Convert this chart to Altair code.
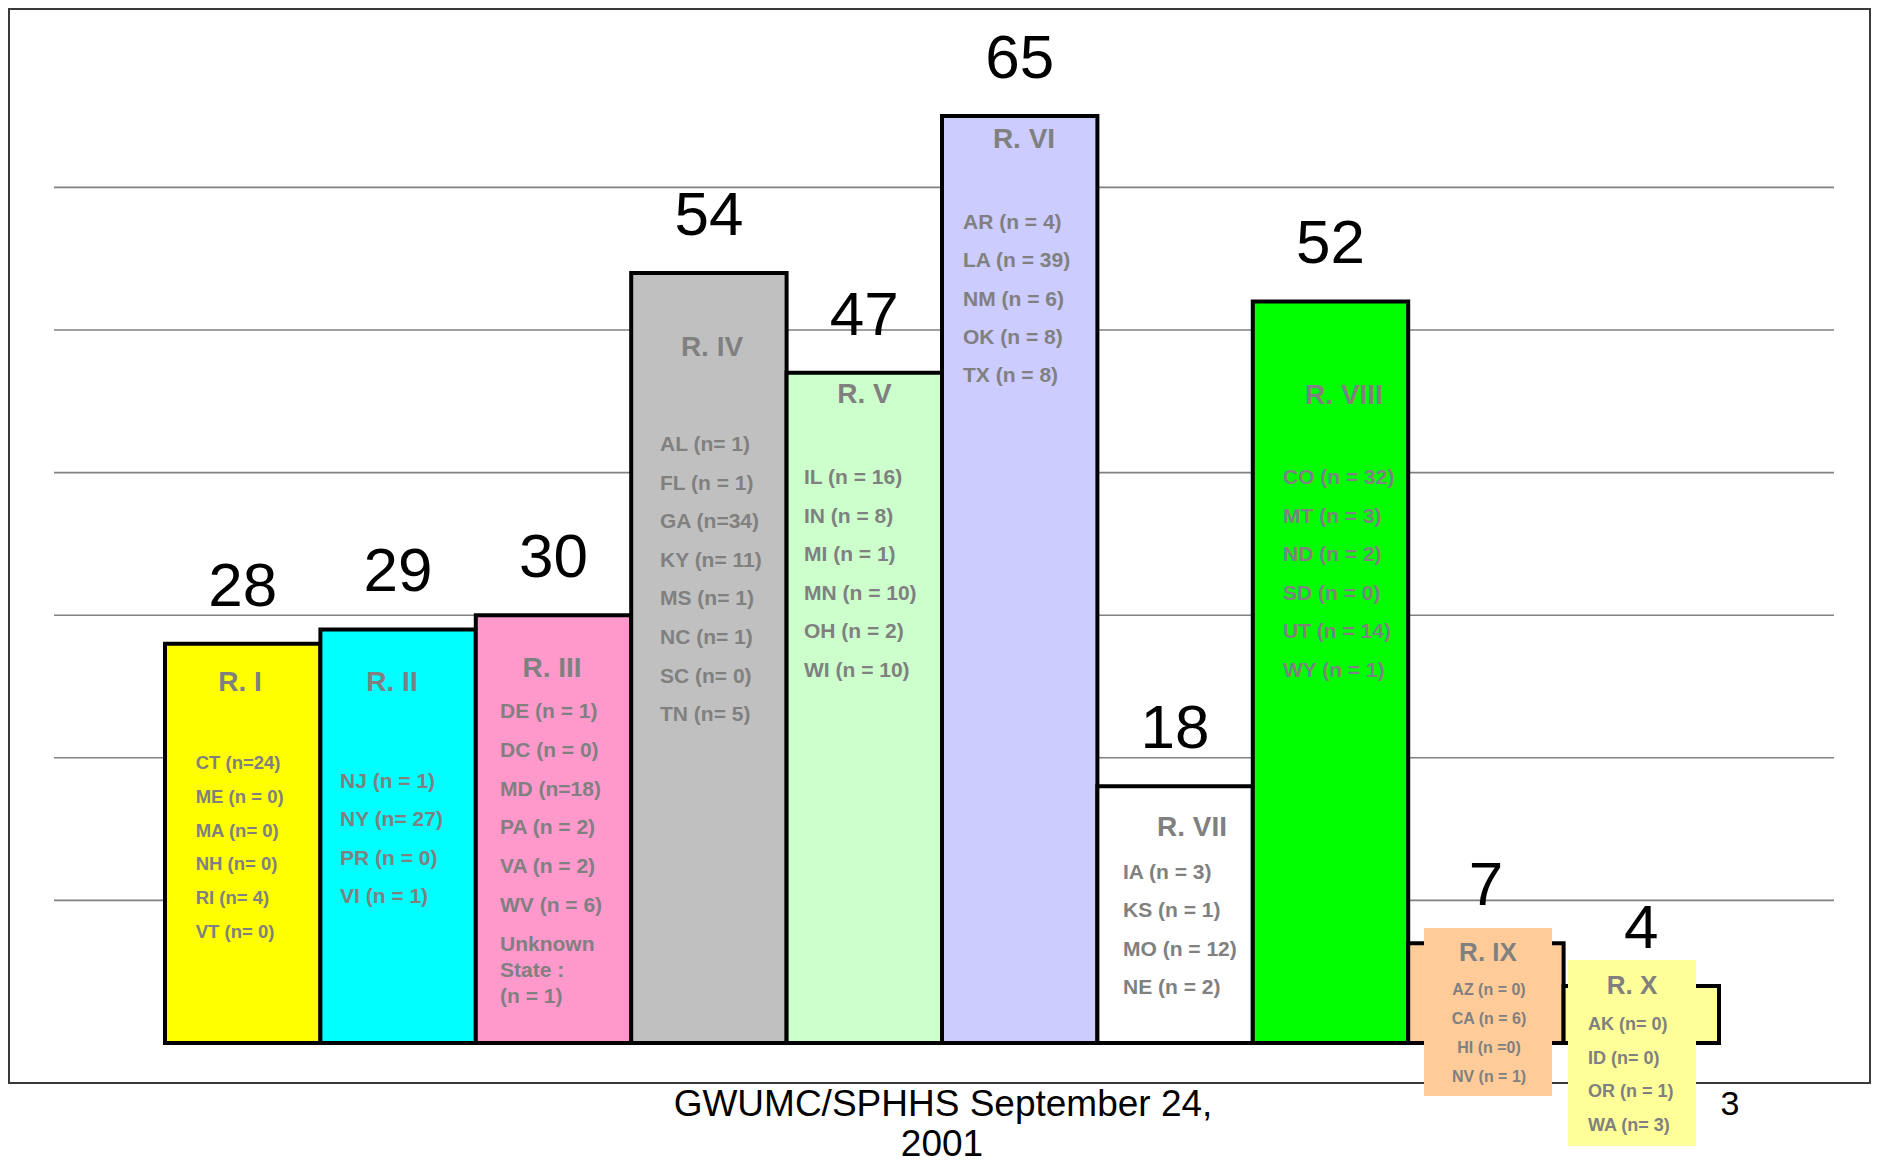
import altair as alt
import pandas as pd

# ---------------- data ----------------
REGIONS = ["R. I", "R. II", "R. III", "R. IV", "R. V",
           "R. VI", "R. VII", "R. VIII", "R. IX", "R. X"]
TOTALS = [28, 29, 30, 54, 47, 65, 18, 52, 7, 4]
STATES = [
    ["CT (n=24)", "ME (n = 0)", "MA (n= 0)", "NH (n= 0)", "RI (n= 4)", "VT (n= 0)"],
    ["NJ (n = 1)", "NY (n= 27)", "PR (n = 0)", "VI (n = 1)"],
    ["DE (n = 1)", "DC (n = 0)", "MD (n=18)", "PA (n = 2)", "VA (n = 2)",
     "WV (n = 6)", "Unknown", "State :", "(n = 1)"],
    ["AL (n= 1)", "FL (n = 1)", "GA (n=34)", "KY (n= 11)", "MS (n= 1)",
     "NC (n= 1)", "SC (n= 0)", "TN (n= 5)"],
    ["IL (n = 16)", "IN (n = 8)", "MI (n = 1)", "MN (n = 10)", "OH (n = 2)", "WI (n = 10)"],
    ["AR (n = 4)", "LA (n = 39)", "NM (n = 6)", "OK (n = 8)", "TX (n = 8)"],
    ["IA (n = 3)", "KS (n = 1)", "MO (n = 12)", "NE (n = 2)"],
    ["CO (n = 32)", "MT (n = 3)", "ND (n = 2)", "SD (n = 0)", "UT (n = 14)", "WY (n = 1)"],
    ["AZ (n = 0)", "CA (n = 6)", "HI (n =0)", "NV (n = 1)"],
    ["AK (n= 0)", "ID (n= 0)", "OR (n = 1)", "WA (n= 3)"],
]
GRID_VALUES = [10, 20, 30, 40, 50, 60]
FOOTER_LINES = ["GWUMC/SPHHS September 24,", "2001"]
PAGE_NUMBER = "3"

# ---------------- style ----------------
FILLS = ["#FFFF00", "#00FFFF", "#FF99CC", "#C0C0C0", "#CCFFCC",
         "#CCCCFF", "#FFFFFF", "#00FF00", "#FFCC99", "#FFFF99"]
FONT = "Liberation Sans, Arial, sans-serif"
GRAY_TEXT = "#808080"

# ---------------- geometry (page pixels) ----------------
W, H = 1863, 1157
ORIGIN = 8
X0_PAGE, X_STEP = 165.0, 155.4     # left edge of first bar, bar width
Y0_PAGE, Y_STEP = 1043.0, 14.26    # baseline, pixels per unit


def xu(px):
    return (px - X0_PAGE) / X_STEP


def yu(py):
    return (Y0_PAGE - py) / Y_STEP


X_DOMAIN = [xu(ORIGIN), xu(ORIGIN + W)]
Y_DOMAIN = [yu(ORIGIN + H), yu(ORIGIN)]
XS = alt.Scale(domain=X_DOMAIN, nice=False, zero=False)
YS = alt.Scale(domain=Y_DOMAIN, nice=False, zero=False)

# title (center x, middle y, font size) per region
TITLE_POS = [(240, 683, 28), (392, 683, 28), (552, 669, 28), (712, 347.5, 28),
             (864.5, 395, 28), (1024, 140, 28), (1192, 828, 28), (1344, 396, 28),
             (1488, 953, 26), (1632, 986, 26)]
# list (anchor x, first line middle y, line spacing, font size)
LIST_POS = [(195.7, 763, 33.8, 18.5), (340, 782, 38.3, 21), (500, 712, 38.8, 21),
            (660, 445, 38.6, 21), (804, 478, 38.6, 21), (963, 223, 38.3, 21),
            (1123, 873, 38.4, 21), (1283, 478, 38.6, 21), (1489, 990, 29, 16),
            (1588, 1025, 33.7, 18)]
CENTERED_LISTS = {8}
SLOT_OVERRIDE = {2: [0, 1, 2, 3, 4, 5, 6, 6.67, 7.34]}
GRID_X = (54, 1834)
FRAME = (9, 9, 1870, 1083)
BOXES = [(1424, 928, 1552, 1096, "#FFCC99"), (1568, 960, 1696, 1146, "#FFFF99")]
FOOTER_POS = [(943, 1105), (942, 1145)]
FOOTER_SIZE = 37
PAGE_NUM_POS = (1730, 1105)

# ---------------- tables ----------------
bars_df = pd.DataFrame({
    "region": REGIONS,
    "x0": list(range(len(REGIONS))),
    "x1": [i + 1 for i in range(len(REGIONS))],
    "xc": [i + 0.5 for i in range(len(REGIONS))],
    "base": [0] * len(REGIONS),
    "value": TOTALS,
    "fill": FILLS,
})

grid_df = pd.DataFrame({"v": GRID_VALUES, "gx0": xu(GRID_X[0]), "gx1": xu(GRID_X[1])})

frame_df = pd.DataFrame([{"fx0": xu(FRAME[0]), "fy0": yu(FRAME[1]),
                          "fx1": xu(FRAME[2]), "fy1": yu(FRAME[3])}])

box_df = pd.DataFrame([{"bx0": xu(a), "by0": yu(b), "bx1": xu(c), "by1": yu(d), "fill": f}
                       for a, b, c, d, f in BOXES])

title_df = pd.DataFrame([{"t": REGIONS[i], "tx": xu(p[0]), "ty": yu(p[1]), "size": p[2]}
                         for i, p in enumerate(TITLE_POS)])

rows = []
for i, lines in enumerate(STATES):
    ax, y0, step, size = LIST_POS[i]
    slots = SLOT_OVERRIDE.get(i, list(range(len(lines))))
    for k, line in enumerate(lines):
        rows.append({"t": line, "lx": xu(ax), "ly": yu(y0 + slots[k] * step),
                     "size": size, "centered": i in CENTERED_LISTS})
list_df = pd.DataFrame(rows)

footer_df = pd.DataFrame([{"t": t, "fx": xu(p[0]), "fy": yu(p[1])}
                          for t, p in zip(FOOTER_LINES, FOOTER_POS)])
page_df = pd.DataFrame([{"t": PAGE_NUMBER, "px": xu(PAGE_NUM_POS[0]), "py": yu(PAGE_NUM_POS[1])}])

# ---------------- layers ----------------
frame = alt.Chart(frame_df).mark_rect(fillOpacity=0, stroke="#3a3a3a", strokeWidth=2).encode(
    x=alt.X("fx0:Q", scale=XS, axis=None), x2="fx1:Q",
    y=alt.Y("fy0:Q", scale=YS, axis=None), y2="fy1:Q")

grid = alt.Chart(grid_df).mark_rule(color="#808080", strokeWidth=1.6).encode(
    x=alt.X("gx0:Q", scale=XS, axis=None), x2="gx1:Q",
    y=alt.Y("v:Q", scale=YS, axis=None))

bars = alt.Chart(bars_df).mark_rect(stroke="black", strokeWidth=4).encode(
    x=alt.X("x0:Q", scale=XS, axis=None), x2="x1:Q",
    y=alt.Y("base:Q", scale=YS, axis=None), y2="value:Q",
    fill=alt.Fill("fill:N", scale=None))

boxes = alt.Chart(box_df).mark_rect(strokeWidth=0).encode(
    x=alt.X("bx0:Q", scale=XS, axis=None), x2="bx1:Q",
    y=alt.Y("by0:Q", scale=YS, axis=None), y2="by1:Q",
    fill=alt.Fill("fill:N", scale=None))

values = alt.Chart(bars_df).mark_text(font=FONT, fontSize=62, color="black",
                                      baseline="alphabetic", align="center", dy=-38).encode(
    x=alt.X("xc:Q", scale=XS, axis=None),
    y=alt.Y("value:Q", scale=YS, axis=None),
    text="value:Q")

titles = alt.Chart(title_df).mark_text(font=FONT, fontWeight="bold", color=GRAY_TEXT,
                                       baseline="middle", align="center").encode(
    x=alt.X("tx:Q", scale=XS, axis=None),
    y=alt.Y("ty:Q", scale=YS, axis=None),
    size=alt.Size("size:Q", scale=None),
    text="t:N")

lists_left = alt.Chart(list_df[~list_df["centered"]]).mark_text(
    font=FONT, fontWeight="bold", color=GRAY_TEXT, baseline="middle", align="left").encode(
    x=alt.X("lx:Q", scale=XS, axis=None),
    y=alt.Y("ly:Q", scale=YS, axis=None),
    size=alt.Size("size:Q", scale=None),
    text="t:N")

lists_center = alt.Chart(list_df[list_df["centered"]]).mark_text(
    font=FONT, fontWeight="bold", color=GRAY_TEXT, baseline="middle", align="center").encode(
    x=alt.X("lx:Q", scale=XS, axis=None),
    y=alt.Y("ly:Q", scale=YS, axis=None),
    size=alt.Size("size:Q", scale=None),
    text="t:N")

footer = alt.Chart(footer_df).mark_text(font=FONT, fontSize=FOOTER_SIZE, color="black",
                                        baseline="middle", align="center").encode(
    x=alt.X("fx:Q", scale=XS, axis=None),
    y=alt.Y("fy:Q", scale=YS, axis=None),
    text="t:N")

page_num = alt.Chart(page_df).mark_text(font=FONT, fontSize=34, color="black",
                                        baseline="middle", align="center").encode(
    x=alt.X("px:Q", scale=XS, axis=None),
    y=alt.Y("py:Q", scale=YS, axis=None),
    text="t:N")

chart = alt.layer(frame, grid, bars, boxes, values, titles, lists_left, lists_center,
                  footer, page_num).properties(
    width=W, height=H, padding=0, autosize=alt.AutoSizeParams(type="none"),
    background="white"
).configure_view(stroke=None)

chart.save("out.html", embed_options={"renderer": "svg", "actions": False})
